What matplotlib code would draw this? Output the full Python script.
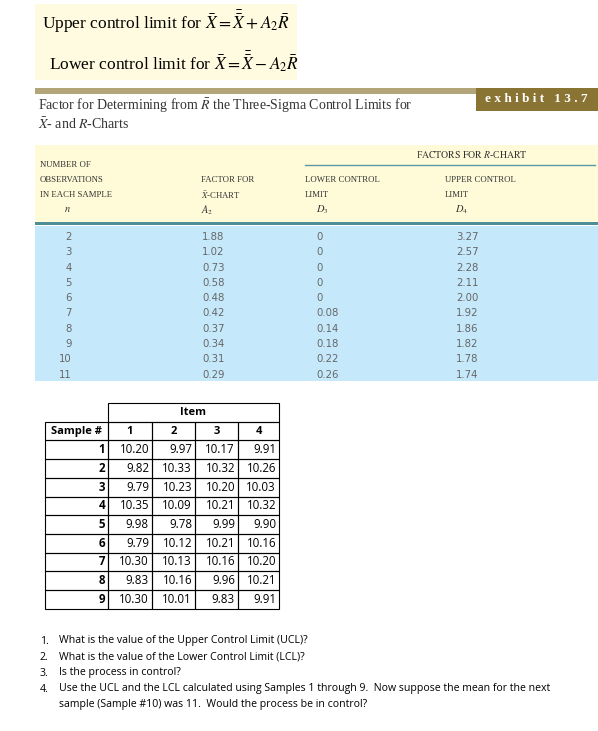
import matplotlib.pyplot as plt
from matplotlib.patches import Rectangle

plt.rcParams["mathtext.fontset"] = "stix"

# factor table
n_obs = [2, 3, 4, 5, 6, 7, 8, 9, 10, 11]
a2 = ["1.88", "1.02", "0.73", "0.58", "0.48", "0.42", "0.37", "0.34", "0.31", "0.29"]
d3 = ["0", "0", "0", "0", "0", "0.08", "0.14", "0.18", "0.22", "0.26"]
d4 = ["3.27", "2.57", "2.28", "2.11", "2.00", "1.92", "1.86", "1.82", "1.78", "1.74"]

# sample table
samples = [1, 2, 3, 4, 5, 6, 7, 8, 9]
item1 = ["10.20", "9.82", "9.79", "10.35", "9.98", "9.79", "10.30", "9.83", "10.30"]
item2 = ["9.97", "10.33", "10.23", "10.09", "9.78", "10.12", "10.13", "10.16", "10.01"]
item3 = ["10.17", "10.32", "10.20", "10.21", "9.99", "10.21", "10.16", "9.96", "9.83"]
item4 = ["9.91", "10.26", "10.03", "10.32", "9.90", "10.16", "10.20", "10.21", "9.91"]

questions = [
    ("1.", "What is the value of the Upper Control Limit (UCL)?"),
    ("2.", "What is the value of the Lower Control Limit (LCL)?"),
    ("3.", "Is the process in control?"),
    ("4.", "Use the UCL and the LCL calculated using Samples 1 through 9.  Now suppose the mean for the next"),
    ("", "sample (Sample #10) was 11.  Would the process be in control?"),
]

fig = plt.figure(figsize=(5.98, 7.31), dpi=100)
ax = fig.add_axes([0, 0, 1, 1])
ax.set_xlim(0, 598)
ax.set_ylim(731, 0)
ax.axis("off")

serif = "Liberation Serif"
calibri = "Open Sans"

# formula box
ax.add_patch(Rectangle((35, 4), 262, 76, color="#fffbe0", lw=0))
ax.text(42, 22, r"Upper control limit for $\mathit{\bar{X}} = \mathit{\bar{\bar{X}}} + A_{2}\mathit{\bar{R}}$",
        family=serif, fontsize=12.5, va="center")
ax.text(49, 62, r"Lower control limit for $\mathit{\bar{X}} = \mathit{\bar{\bar{X}}} - A_{2}\mathit{\bar{R}}$",
        family=serif, fontsize=12.5, va="center")

# exhibit bar
ax.add_patch(Rectangle((35, 88), 563, 6, color="#b3a57a", lw=0))
ax.add_patch(Rectangle((476, 88), 122, 23, color="#8a7434", lw=0))
ax.text(536, 99, "e x h i b i t   1 3 . 7", family=serif, fontsize=9.5, weight="bold",
        color="white", ha="center", va="center")
ax.text(38, 106, r"Factor for Determining from $\bar{R}$ the Three-Sigma Control Limits for",
        family=serif, fontsize=10, va="center", color="#333333")
ax.text(38, 124, r"$\bar{X}$- and $R$-Charts", family=serif, fontsize=10, va="center", color="#333333")

# header box
ax.add_patch(Rectangle((35, 145), 563, 77, color="#fffbd8", lw=0))
ax.text(472, 154, r"F$\mathrm{ACTORS\ FOR}$ $R$-C$\mathrm{HART}$", family=serif, fontsize=7, ha="center", va="center", color="#333333")
ax.plot([305, 595], [165, 165], color="#5a9aa8", lw=1)
hdr = [(40, ["NUMBER OF", "OBSERVATIONS", "IN EACH SAMPLE"], r"$n$", 67),
       (201, ["", "FACTOR FOR", r"$\bar{X}$-CHART"], r"$A_2$", 207),
       (305, ["", "LOWER CONTROL", "LIMIT"], r"$D_3$", 322),
       (445, ["", "UPPER CONTROL", "LIMIT"], r"$D_4$", 462)]
for x, lines, sym, sx in hdr:
    for i, t in enumerate(lines):
        if t:
            ax.text(x, 165 + i * 15, t, family=serif, fontsize=6.3, va="center", color="#333333")
    ax.text(sx, 210, sym, family=serif, fontsize=7.5, ha="center", va="center", color="#333333")
ax.add_patch(Rectangle((35, 222), 563, 3, color="#4f8d99", lw=0))

# data area
ax.add_patch(Rectangle((35, 226), 563, 155, color="#c5e9fb", lw=0))
for i in range(len(n_obs)):
    y = 237 + i * 15.3
    ax.text(72, y, str(n_obs[i]), fontsize=7.3, ha="right", va="center", color="#666666")
    ax.text(202, y, a2[i], fontsize=7.3, va="center", color="#666666")
    ax.text(316, y, d3[i], fontsize=7.3, va="center", color="#666666")
    ax.text(456, y, d4[i], fontsize=7.3, va="center", color="#666666")

# sample table
cols = [45, 108, 152, 195, 238, 279]
top = 403
row_h = 18.7
ax.add_patch(Rectangle((108, top), 171, row_h, fill=False, lw=0.8))
ax.text(193, top + row_h / 2, "Item", family=calibri, fontsize=8, weight="bold", ha="center", va="center")
rows = [["Sample #", "1", "2", "3", "4"]] + [
    [str(samples[i]), item1[i], item2[i], item3[i], item4[i]] for i in range(len(samples))]
for r, row in enumerate(rows):
    y0 = top + row_h * (r + 1)
    for c in range(5):
        ax.add_patch(Rectangle((cols[c], y0), cols[c + 1] - cols[c], row_h, fill=False, lw=0.8))
        if r == 0:
            ax.text((cols[c] + cols[c + 1]) / 2, y0 + row_h / 2, row[c], family=calibri,
                    fontsize=8, weight="bold", ha="center", va="center")
        else:
            ax.text(cols[c + 1] - 3, y0 + row_h / 2, row[c], family=calibri, fontsize=8.3,
                    weight="bold" if c == 0 else "normal", ha="right", va="center")

# questions
for i, (num, txt) in enumerate(questions):
    y = 641 + i * 16
    ax.text(40, y, num, family=calibri, fontsize=7.6, va="center")
    ax.text(59, y, txt, family=calibri, fontsize=7.6, va="center")

fig.savefig("out.png", dpi=100)
